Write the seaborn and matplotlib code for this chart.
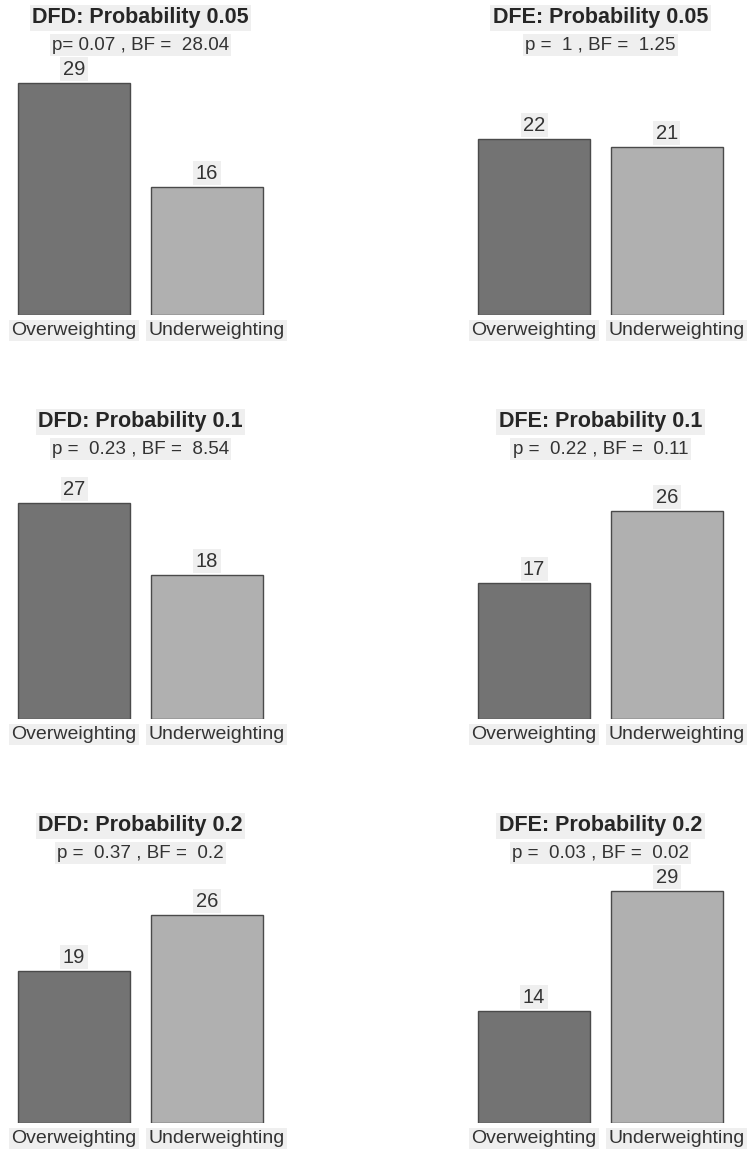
import matplotlib
matplotlib.use("Agg")
import matplotlib.pyplot as plt
import matplotlib.transforms as mtransforms
import seaborn as sns
import pandas as pd

# Counts of participants classified by weighting direction
categories = ["Overweighting", "Underweighting"]
conditions = ["DFD", "DFE"]
probabilities = ["0.05", "0.1", "0.2"]
dfd_over = [29, 27, 19]
dfd_under = [16, 18, 26]
dfe_over = [22, 17, 14]
dfe_under = [21, 26, 29]
dfd_stats = ["p= 0.07 , BF =  28.04", "p =  0.23 , BF =  8.54", "p =  0.37 , BF =  0.2"]
dfe_stats = ["p =  1 , BF =  1.25", "p =  0.22 , BF =  0.11", "p =  0.03 , BF =  0.02"]

bar_colors = ["#737373", "#b0b0b0"]
W, H = 751, 1154
sns.set_theme(style="white")
plt.rcParams["font.family"] = ["Liberation Sans", "DejaVu Sans"]

fig = plt.figure(figsize=(W / 100, H / 100), dpi=100)
fig.patch.set_facecolor("white")

baselines = [315, 719, 1123]
col_x = [(1, 280), (461, 740)]
px_per_unit = 8.0
ymax = 30
box = dict(boxstyle="square,pad=0.12", facecolor="#efefef", edgecolor="none")
shift_right = mtransforms.ScaledTranslation(10 / 100, 0, fig.dpi_scale_trans)

for r, prob in enumerate(probabilities):
    for c, cond in enumerate(conditions):
        over = dfd_over if cond == "DFD" else dfe_over
        under = dfd_under if cond == "DFD" else dfe_under
        stats = dfd_stats if cond == "DFD" else dfe_stats
        df = pd.DataFrame({"weighting": categories, "count": [over[r], under[r]]})

        x0, x1 = col_x[c]
        base = baselines[r]
        top = base - ymax * px_per_unit
        ax = fig.add_axes([x0 / W, 1 - base / H, (x1 - x0) / W, (base - top) / H])
        sns.barplot(data=df, x="weighting", y="count", hue="weighting",
                    palette=bar_colors, legend=False, width=0.84,
                    edgecolor="#4a4a4a", linewidth=1.0, saturation=1, ax=ax)
        ax.set_ylim(0, ymax)
        ax.set_xlim(-0.55, 1.55)
        ax.set_xlabel("")
        ax.set_ylabel("")
        ax.set_yticks([])
        ax.tick_params(axis="x", length=0, pad=5, labelsize=14, labelcolor="#333333")
        ticklabels = ax.get_xticklabels()
        for lab in ticklabels:
            lab.set_bbox(box)
        ticklabels[1].set_transform(ticklabels[1].get_transform() + shift_right)
        for s in ax.spines.values():
            s.set_visible(False)
        for cont in ax.containers:
            labels = ax.bar_label(cont, padding=3, fontsize=14.5, color="#333333")
            for t in labels:
                t.set_bbox(box)
                t.set_clip_on(False)

        xc = (x0 + x1) / 2 / W
        fig.text(xc, 1 - (base - 297) / H, f"{cond}: Probability {prob}",
                 ha="center", va="center", fontsize=15.5, fontweight="bold",
                 color="#262626", bbox=box)
        fig.text(xc, 1 - (base - 270) / H, stats[r], ha="center", va="center",
                 fontsize=13.6, color="#333333", bbox=box)

fig.savefig("out.png", dpi=100, facecolor="white")
